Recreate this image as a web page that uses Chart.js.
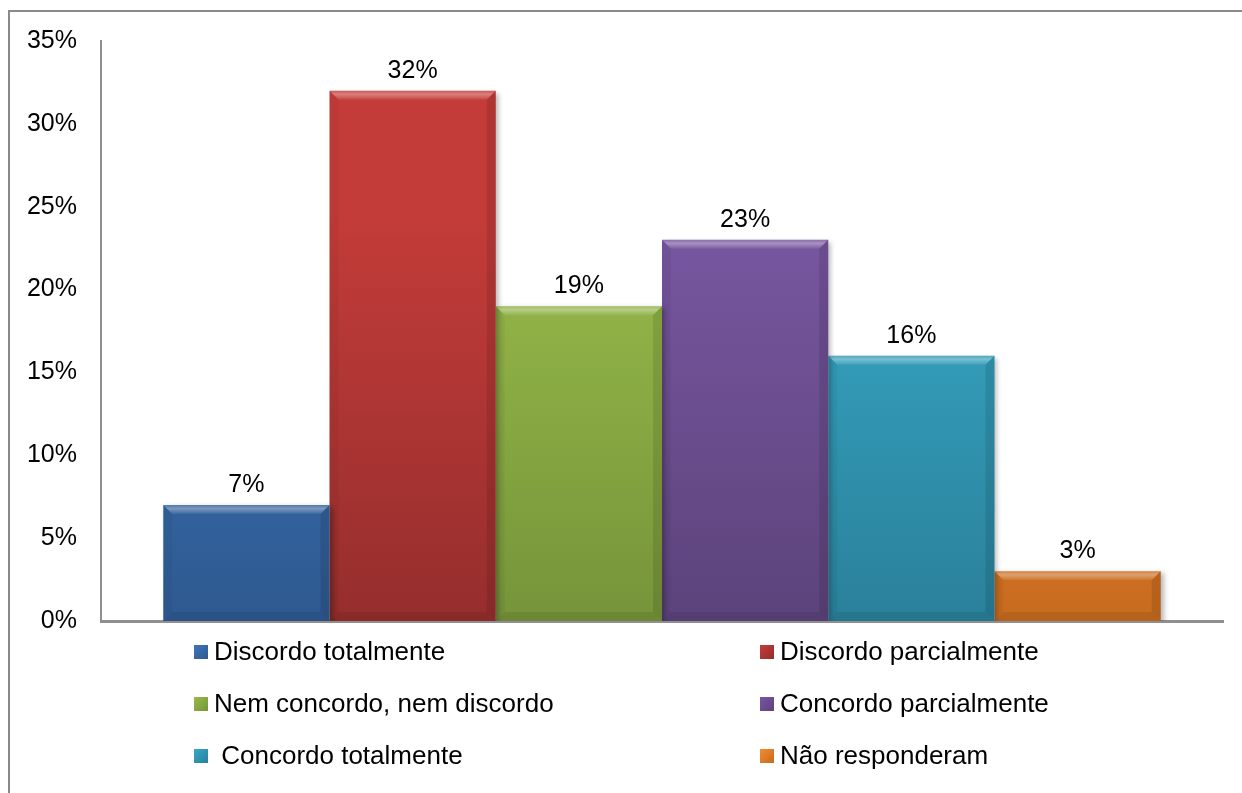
<!DOCTYPE html>
<html>
<head>
<meta charset="utf-8">
<script src="https://cdn.jsdelivr.net/npm/chart.js@4/dist/chart.umd.min.js"></script>
<style>
  html, body { margin: 0; padding: 0; background: #fff; }
  #wrap { position: relative; width: 1242px; height: 793px; overflow: hidden; font-family: "Liberation Sans", Arial, sans-serif; }
  #frame { position: absolute; left: 8px; top: 10px; width: 1300px; height: 900px; border-top: 2px solid #8a8a8a; border-left: 2px solid #8a8a8a; }
  canvas { position: absolute; left: 0; top: 0; }
  #legend { position: absolute; left: 0; top: 0; width: 1242px; height: 793px; pointer-events: none; }
  .item { position: absolute; font-size: 26px; color: #000; display: flex; align-items: center; white-space: pre; }
  .box { width: 14px; height: 14px; margin-right: 6px; }
</style>
</head>
<body>
<div id="wrap">
  <div id="frame"></div>
  <canvas id="chart" width="1242" height="793"></canvas>
  <div id="legend"></div>
</div>
<script>
// Kategorien / Serien
const seriesNames = [
  "Discordo totalmente",
  "Discordo parcialmente",
  "Nem concordo, nem discordo",
  "Concordo parcialmente",
  " Concordo totalmente",
  "Não responderam"
];
const seriesValues = [7, 32, 19, 23, 16, 3];
const yTicks = [0, 5, 10, 15, 20, 25, 30, 35];

// Farben oben / unten fuer den Verlauf
const topColors = ["#3d76ba", "#c33c39", "#97bb4a", "#7857a1", "#37a9c7", "#f38b30"];
const bottomColors = ["#2e5990", "#952e2d", "#76943a", "#5c437b", "#2a809a", "#c76b1f"];

function barGradient(i) {
  return function (ctx) {
    const chart = ctx.chart;
    const area = chart.chartArea;
    if (!area) return topColors[i];
    const el = ctx.element;
    const top = el && el.y !== undefined ? el.y : area.top;
    const g = chart.ctx.createLinearGradient(0, top, 0, area.bottom);
    g.addColorStop(0, topColors[i]);
    g.addColorStop(0.3, topColors[i]);
    g.addColorStop(1, bottomColors[i]);
    return g;
  };
}

const datasets = seriesNames.map((name, i) => ({
  label: name,
  data: [seriesValues[i]],
  backgroundColor: barGradient(i),
  borderWidth: 0,
  categoryPercentage: 0.889,
  barPercentage: 1.0
}));

// Bevel und Beschriftung der Balken
const bevelPlugin = {
  id: "bevel",
  beforeDatasetsDraw(chart) {
    const ctx = chart.ctx;
    ctx.save();
    ctx.shadowColor = "rgba(0,0,0,0.28)";
    ctx.shadowBlur = 5;
    ctx.shadowOffsetX = 3;
    ctx.shadowOffsetY = 2;
  },
  afterDatasetsDraw(chart) {
    const ctx = chart.ctx;
    ctx.restore();
    ctx.save();
    chart.data.datasets.forEach((ds, i) => {
      const el = chart.getDatasetMeta(i).data[0];
      const left = el.x - el.width / 2;
      const right = el.x + el.width / 2;
      const top = el.y;
      const bottom = el.base;
      const b = Math.min(9, (bottom - top) / 2);
      // oben hell
      ctx.beginPath();
      ctx.moveTo(left, top);
      ctx.lineTo(right, top);
      ctx.lineTo(right - b, top + b);
      ctx.lineTo(left + b, top + b);
      ctx.closePath();
      const gt = ctx.createLinearGradient(0, top, 0, top + b);
      gt.addColorStop(0, "rgba(255,255,255,0.15)");
      gt.addColorStop(0.4, "rgba(255,255,255,0.35)");
      gt.addColorStop(1, "rgba(255,255,255,0.05)");
      ctx.fillStyle = gt;
      ctx.fill();
      // rechts dunkel
      ctx.beginPath();
      ctx.moveTo(right, top);
      ctx.lineTo(right, bottom);
      ctx.lineTo(right - b, bottom - b);
      ctx.lineTo(right - b, top + b);
      ctx.closePath();
      ctx.fillStyle = "rgba(0,0,0,0.1)";
      ctx.fill();
      // links leicht dunkel
      ctx.beginPath();
      ctx.moveTo(left, top);
      ctx.lineTo(left + b, top + b);
      ctx.lineTo(left + b, bottom - b);
      ctx.lineTo(left, bottom);
      ctx.closePath();
      ctx.fillStyle = "rgba(0,0,0,0.04)";
      ctx.fill();
      // unten dunkel
      ctx.beginPath();
      ctx.moveTo(left, bottom);
      ctx.lineTo(left + b, bottom - b);
      ctx.lineTo(right - b, bottom - b);
      ctx.lineTo(right, bottom);
      ctx.closePath();
      ctx.fillStyle = "rgba(0,0,0,0.08)";
      ctx.fill();
      // Wert
      ctx.fillStyle = "#000";
      ctx.font = "25px 'Liberation Sans', Arial, sans-serif";
      ctx.textAlign = "center";
      ctx.textBaseline = "alphabetic";
      ctx.fillText(ds.data[0] + "%", el.x, top - 13);
    });
    ctx.restore();
  }
};

const config = {
  type: "bar",
  data: { labels: [""], datasets: datasets },
  options: {
    responsive: false,
    animation: false,
    layout: { padding: { left: 0, top: 41, right: 19, bottom: 172 } },
    plugins: { legend: { display: false }, tooltip: { enabled: false } },
    scales: {
      x: {
        grid: { display: false, drawTicks: false },
        border: { display: true, color: "#8f8f8f", width: 3 },
        ticks: { display: false }
      },
      y: {
        min: 0,
        max: 35,
        afterFit(scale) { scale.width = 101; },
        afterBuildTicks(scale) { scale.ticks = yTicks.map(v => ({ value: v })); },
        grid: { display: false, drawTicks: false },
        border: { display: true, color: "#8f8f8f", width: 2 },
        ticks: {
          padding: 24,
          color: "#000",
          font: { family: "'Liberation Sans', Arial, sans-serif", size: 25 },
          callback: v => v + "%"
        }
      }
    }
  },
  plugins: [bevelPlugin]
};

const myChart = new Chart(document.getElementById("chart"), config);

// Legende in zwei Spalten
const legendPos = [
  [194, 652], [760, 652],
  [194, 704], [760, 704],
  [194, 756], [760, 756]
];
const legend = document.getElementById("legend");
seriesNames.forEach((name, i) => {
  const div = document.createElement("div");
  div.className = "item";
  div.style.left = legendPos[i][0] + "px";
  div.style.top = (legendPos[i][1] - 16) + "px";
  const box = document.createElement("span");
  box.className = "box";
  box.style.background = "linear-gradient(135deg, " + topColors[i] + ", " + bottomColors[i] + ")";
  div.appendChild(box);
  const txt = document.createElement("span");
  txt.textContent = name;
  div.appendChild(txt);
  legend.appendChild(div);
});
</script>
</body>
</html>
